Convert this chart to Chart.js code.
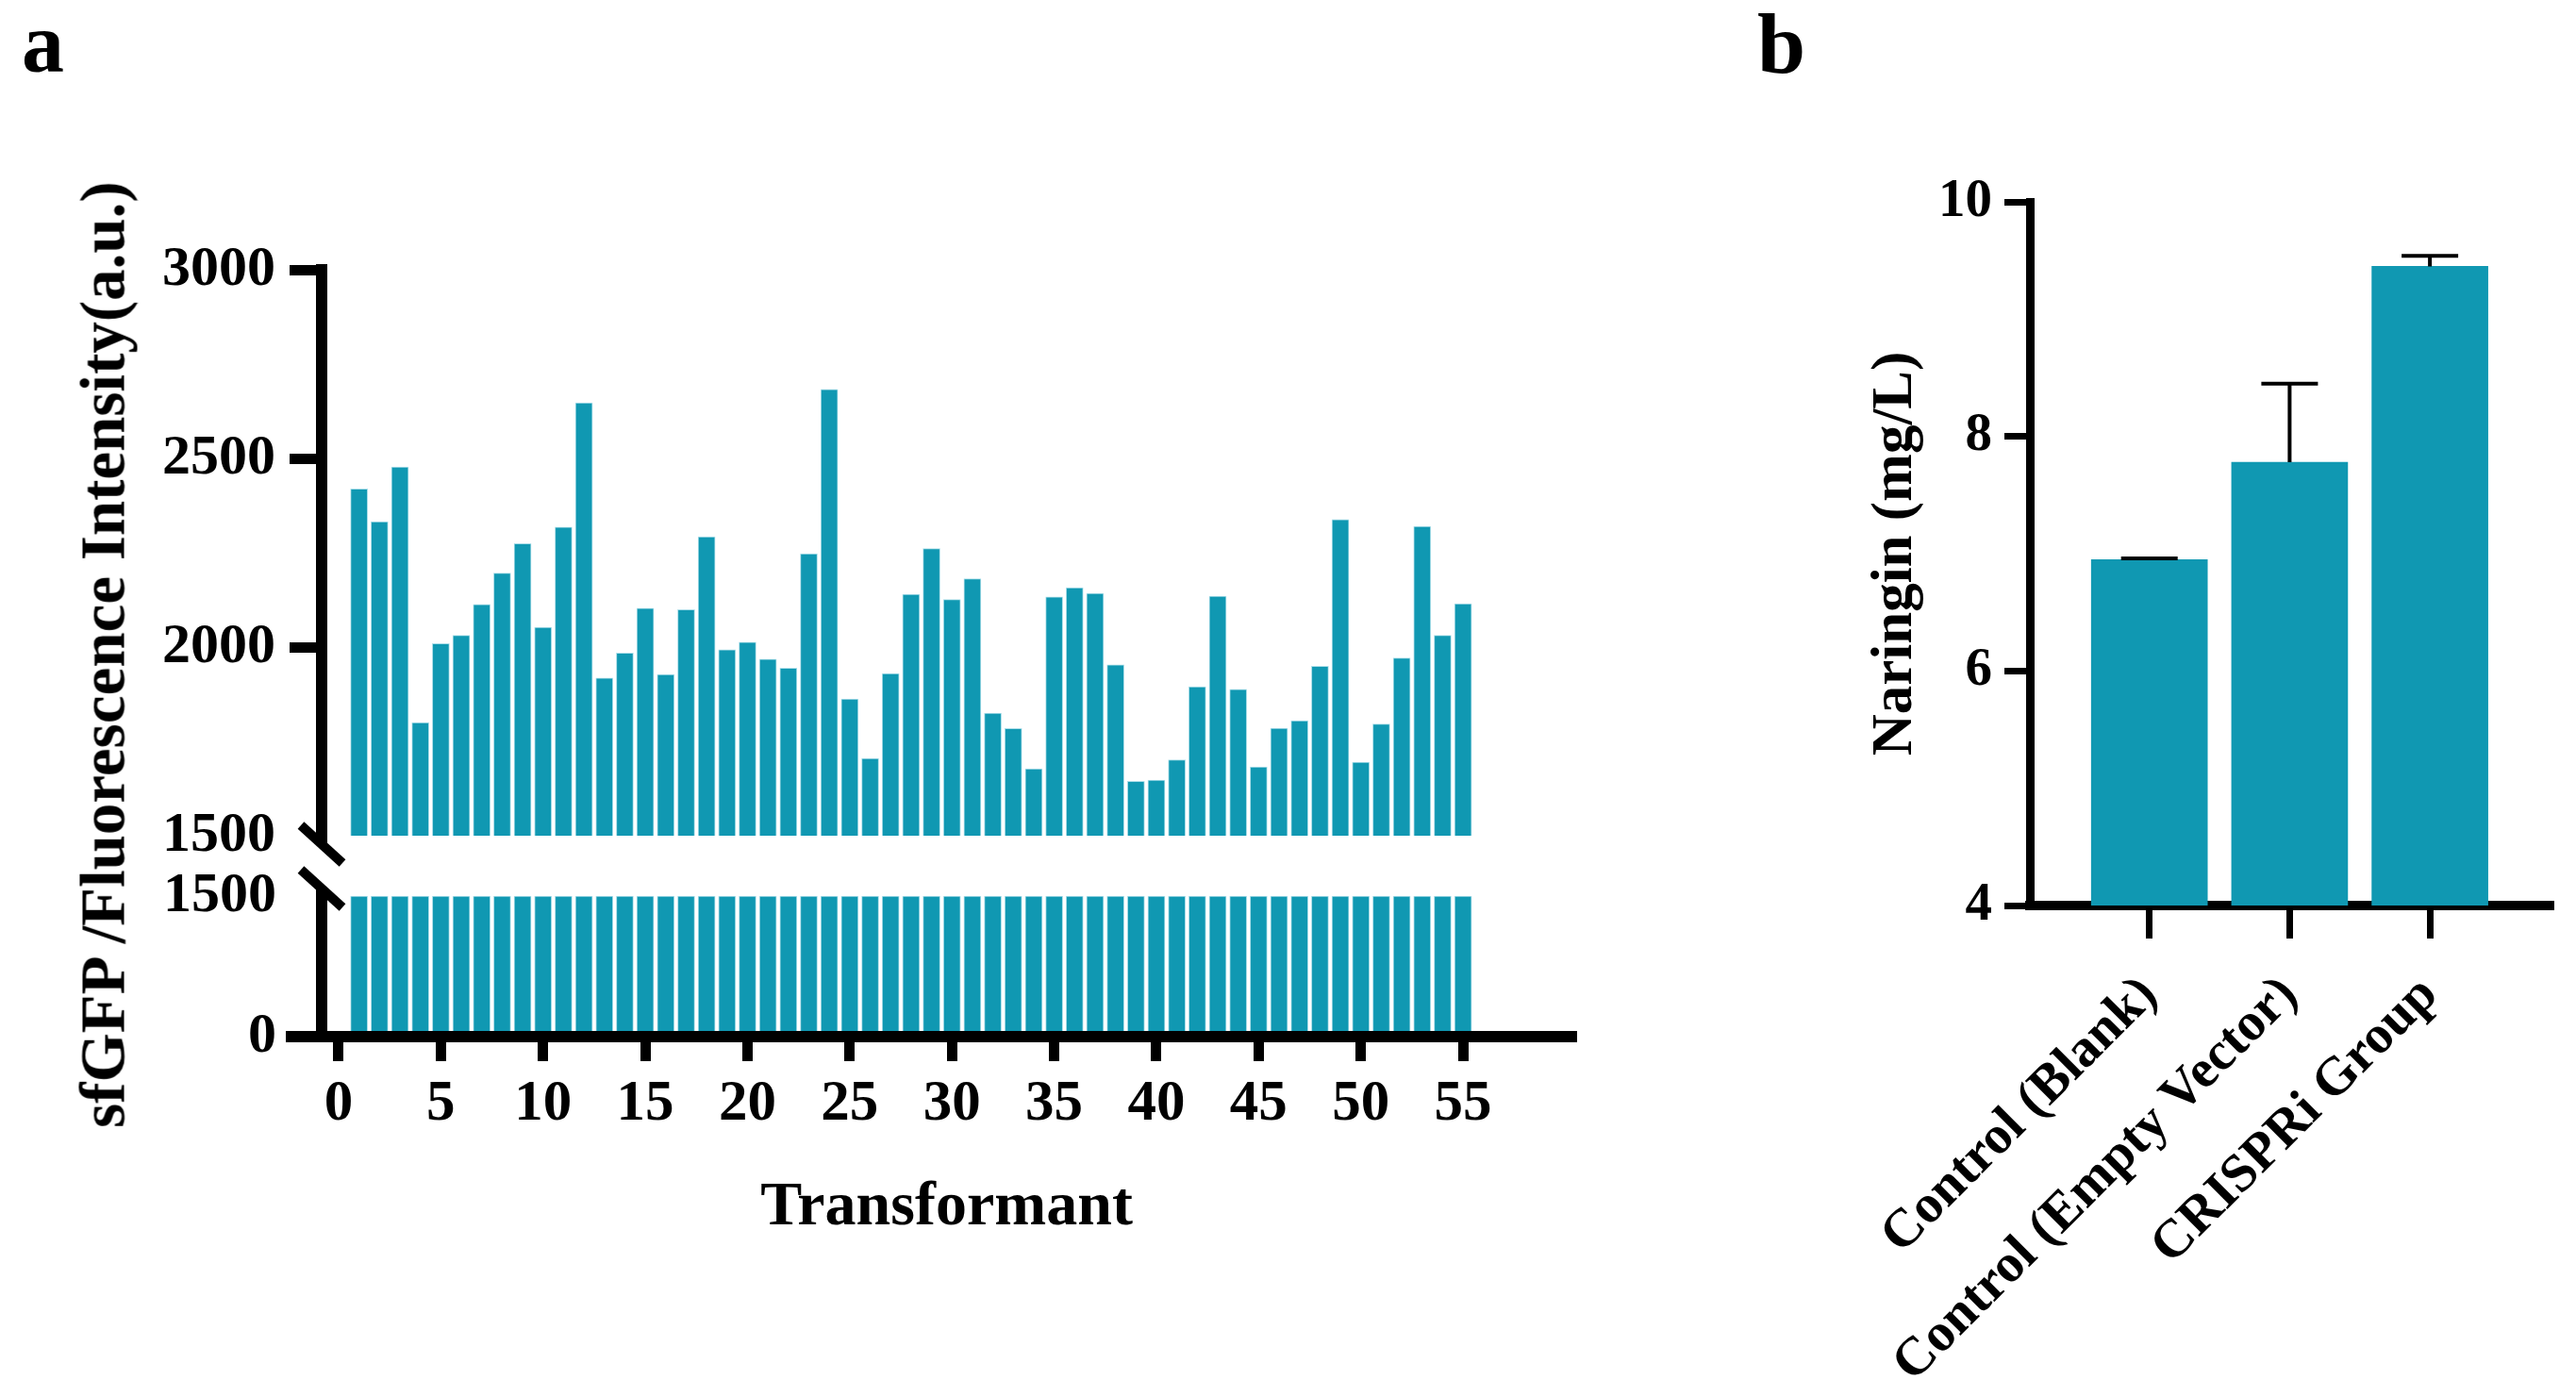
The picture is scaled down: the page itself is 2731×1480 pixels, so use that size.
<!DOCTYPE html>
<html>
<head>
<meta charset="utf-8">
<script src="https://cdn.jsdelivr.net/npm/chart.js@4.4.1/dist/chart.umd.min.js"></script>
<style>
  html, body { margin: 0; padding: 0; background: #fff; }
  body { width: 2731px; height: 1480px; position: relative; overflow: hidden;
         font-family: 'Liberation Serif', 'Times New Roman', serif; font-weight: bold; }
  canvas { position: absolute; left: 0; top: 0; }
  .lbl { position: absolute; line-height: 1; white-space: nowrap; color: #000; }
</style>
</head>
<body>
<canvas id="upper" width="2731" height="1480"></canvas>
<canvas id="lower" width="2731" height="1480"></canvas>
<canvas id="naringin" width="2731" height="1480"></canvas>
<div class="lbl" style="left:23px;top:1px;font-size:90px">a</div>
<div class="lbl" style="left:1863px;top:0px;font-size:92px">b</div>
<div class="lbl" style="left:109px;top:694px;font-size:67px;transform:translate(-50%,-50%) rotate(-90deg)">sfGFP /Fluorescence Intensity(a.u.)</div>
<script>
// panel a: fluorescence of each transformant
const transformants = [1, 2, 3, 4, 5, 6, 7, 8, 9, 10, 11, 12, 13, 14, 15, 16, 17, 18, 19, 20,
  21, 22, 23, 24, 25, 26, 27, 28, 29, 30, 31, 32, 33, 34, 35, 36, 37, 38, 39, 40,
  41, 42, 43, 44, 45, 46, 47, 48, 49, 50, 51, 52, 53, 54, 55];
const fluorescence = [2419, 2332, 2477, 1800, 2009, 2031, 2113, 2196, 2274, 2052,
  2318, 2647, 1918, 1984, 2103, 1927, 2099, 2292, 1993, 2013,
  1968, 1944, 2247, 2683, 1862, 1705, 1930, 2140, 2261, 2126,
  2181, 1825, 1784, 1677, 2133, 2157, 2142, 1953, 1644, 1647,
  1701, 1895, 2135, 1888, 1682, 1785, 1805, 1949, 2338, 1695,
  1796, 1971, 2320, 2031, 2115];
const brokenAt = 1500;
const upperTicks = [1500, 2000, 2500, 3000];
const lowerTicks = [0, 1500];
const xTicks = [0, 5, 10, 15, 20, 25, 30, 35, 40, 45, 50, 55];

// panel b: naringin titre
const groups = ['Control (Blank)', 'Control (Empty Vector)', 'CRISPRi Group'];
const groupPositions = [1, 2, 3];
const naringin = [6.95, 7.78, 9.45];
const naringinSD = [0.01, 0.67, 0.09];
const naringinTicks = [4, 6, 8, 10];

Chart.defaults.font.family = "'Liberation Serif', 'Times New Roman', serif";
Chart.defaults.font.weight = 'bold';
Chart.defaults.color = '#000';

const teal = '#1098b2';
const edge = '#a9dde8';
const clear = 'rgba(0,0,0,0)';

const fixWidth = w => scale => { scale.width = w; };
const fixHeight = h => scale => { scale.height = h; };
const setTicks = list => scale => { scale.ticks = list.map(v => ({ value: v })); };
const hideBreakTick = ctx => (ctx.tick && ctx.tick.value === brokenAt) ? clear : '#000';

// the // marks on the broken y axis
const breakMark = {
  id: 'breakMark',
  afterDraw(chart, args, opts) {
    const { ctx, chartArea } = chart;
    const x = chartArea.left;
    const from = opts.side === 'bottom' ? chartArea.bottom : chartArea.top;
    const y = opts.side === 'bottom' ? from + 9 : from - 8;
    ctx.save();
    ctx.strokeStyle = '#000';
    ctx.lineWidth = 12;
    ctx.beginPath();
    ctx.moveTo(x, from);
    ctx.lineTo(x, y);
    ctx.stroke();
    ctx.lineWidth = 10;
    ctx.beginPath();
    ctx.moveTo(x - 22, y - 20);
    ctx.lineTo(x + 22, y + 20);
    ctx.stroke();
    ctx.restore();
  }
};

const errorBars = {
  id: 'errorBars',
  afterDatasetsDraw(chart) {
    const { ctx, scales: { x, y } } = chart;
    ctx.save();
    ctx.strokeStyle = '#000';
    ctx.lineWidth = 4;
    naringin.forEach((m, i) => {
      const px = x.getPixelForValue(groupPositions[i]);
      const base = y.getPixelForValue(m);
      const top = y.getPixelForValue(m + naringinSD[i]);
      ctx.beginPath();
      ctx.moveTo(px, base);
      ctx.lineTo(px, top);
      ctx.moveTo(px - 30, top);
      ctx.lineTo(px + 30, top);
      ctx.stroke();
    });
    ctx.restore();
  }
};

const common = {
  responsive: false,
  animation: false,
  devicePixelRatio: 1,
  events: []
};

// upper part of panel a (1500 - 3000)
new Chart(document.getElementById('upper'), {
  type: 'bar',
  data: {
    datasets: [{
      data: transformants.map((t, i) => ({ x: t, y: [brokenAt, fluorescence[i]] })),
      backgroundColor: teal,
      borderColor: edge,
      borderWidth: 1,
      barThickness: 18
    }]
  },
  options: {
    ...common,
    layout: { padding: { left: 0, top: 286, right: 1065, bottom: 594 } },
    plugins: { legend: { display: false }, tooltip: { enabled: false }, breakMark: { side: 'bottom' } },
    scales: {
      x: { type: 'linear', min: -0.83, max: 60.3, offset: false, display: false, grid: { offset: false } },
      y: {
        min: 1500, max: 3000,
        afterBuildTicks: setTicks(upperTicks),
        afterFit: fixWidth(341),
        border: { display: true, color: '#000', width: 12 },
        grid: { drawOnChartArea: false, tickLength: 34, tickWidth: 11, lineWidth: 11, color: '#000', tickColor: hideBreakTick },
        ticks: { padding: 15, font: { size: 60 }, color: '#000', callback: v => String(v) }
      }
    }
  },
  plugins: [breakMark]
});

// lower part of panel a (0 - 1500)
new Chart(document.getElementById('lower'), {
  type: 'bar',
  data: {
    datasets: [{
      data: transformants.map((t, i) => ({ x: t, y: Math.min(fluorescence[i], brokenAt) })),
      backgroundColor: teal,
      borderColor: edge,
      borderWidth: 1,
      barThickness: 18
    }]
  },
  options: {
    ...common,
    layout: { padding: { left: 0, top: 950, right: 1065, bottom: 166.5 } },
    plugins: { legend: { display: false }, tooltip: { enabled: false }, breakMark: { side: 'top' } },
    scales: {
      x: {
        type: 'linear', min: -0.83, max: 60.3, offset: false,
        afterBuildTicks: setTicks(xTicks),
        afterFit: fixHeight(214.5),
        border: { display: true, color: '#000', width: 12 },
        grid: { offset: false, drawOnChartArea: false, tickLength: 26, tickWidth: 11, lineWidth: 11, color: '#000', tickColor: '#000' },
        ticks: { autoSkip: false, maxRotation: 0, padding: 10, font: { size: 61 }, color: '#000', callback: v => String(v) },
        title: { display: true, text: 'Transformant', color: '#000', padding: 0, font: { size: 66, weight: 'bold', lineHeight: 1 } }
      },
      y: {
        min: 0, max: 1500,
        afterBuildTicks: setTicks(lowerTicks),
        afterFit: fixWidth(341),
        border: { display: true, color: '#000', width: 12 },
        grid: { drawOnChartArea: false, tickLength: 38, tickWidth: 12, lineWidth: 12, color: '#000', tickColor: hideBreakTick },
        ticks: { padding: 10, font: { size: 60 }, color: '#000', callback: v => String(v) }
      }
    }
  },
  plugins: [breakMark]
});

// panel b
new Chart(document.getElementById('naringin'), {
  type: 'bar',
  data: {
    datasets: [{
      data: groupPositions.map((p, i) => ({ x: p, y: naringin[i] })),
      backgroundColor: teal,
      barThickness: 123
    }]
  },
  options: {
    ...common,
    layout: { padding: { left: 1980, top: 214, right: 27, bottom: 0 } },
    plugins: { legend: { display: false }, tooltip: { enabled: false } },
    scales: {
      x: {
        type: 'linear', min: 0.148, max: 3.86, offset: false,
        afterBuildTicks: setTicks(groupPositions),
        afterFit: fixHeight(520),
        border: { display: true, color: '#000', width: 10 },
        grid: { offset: false, drawOnChartArea: false, tickLength: 35, tickWidth: 7, lineWidth: 7, color: '#000', tickColor: '#000' },
        ticks: {
          autoSkip: false, minRotation: 45, maxRotation: 45, padding: 27,
          font: { size: 57, lineHeight: 1.2 }, color: '#000',
          callback: v => groups[groupPositions.indexOf(v)]
        }
      },
      y: {
        min: 4, max: 10,
        afterBuildTicks: setTicks(naringinTicks),
        afterFit: fixWidth(172),
        border: { display: true, color: '#000', width: 9 },
        grid: { drawOnChartArea: false, tickLength: 27, tickWidth: 7, lineWidth: 7, color: '#000', tickColor: '#000' },
        ticks: { padding: 13, font: { size: 57 }, color: '#000', callback: v => String(v) },
        title: { display: true, text: 'Naringin (mg/L)', color: '#000', padding: 0, font: { size: 61, weight: 'bold', lineHeight: 1 } }
      }
    }
  },
  plugins: [errorBars]
});
</script>
</body>
</html>
